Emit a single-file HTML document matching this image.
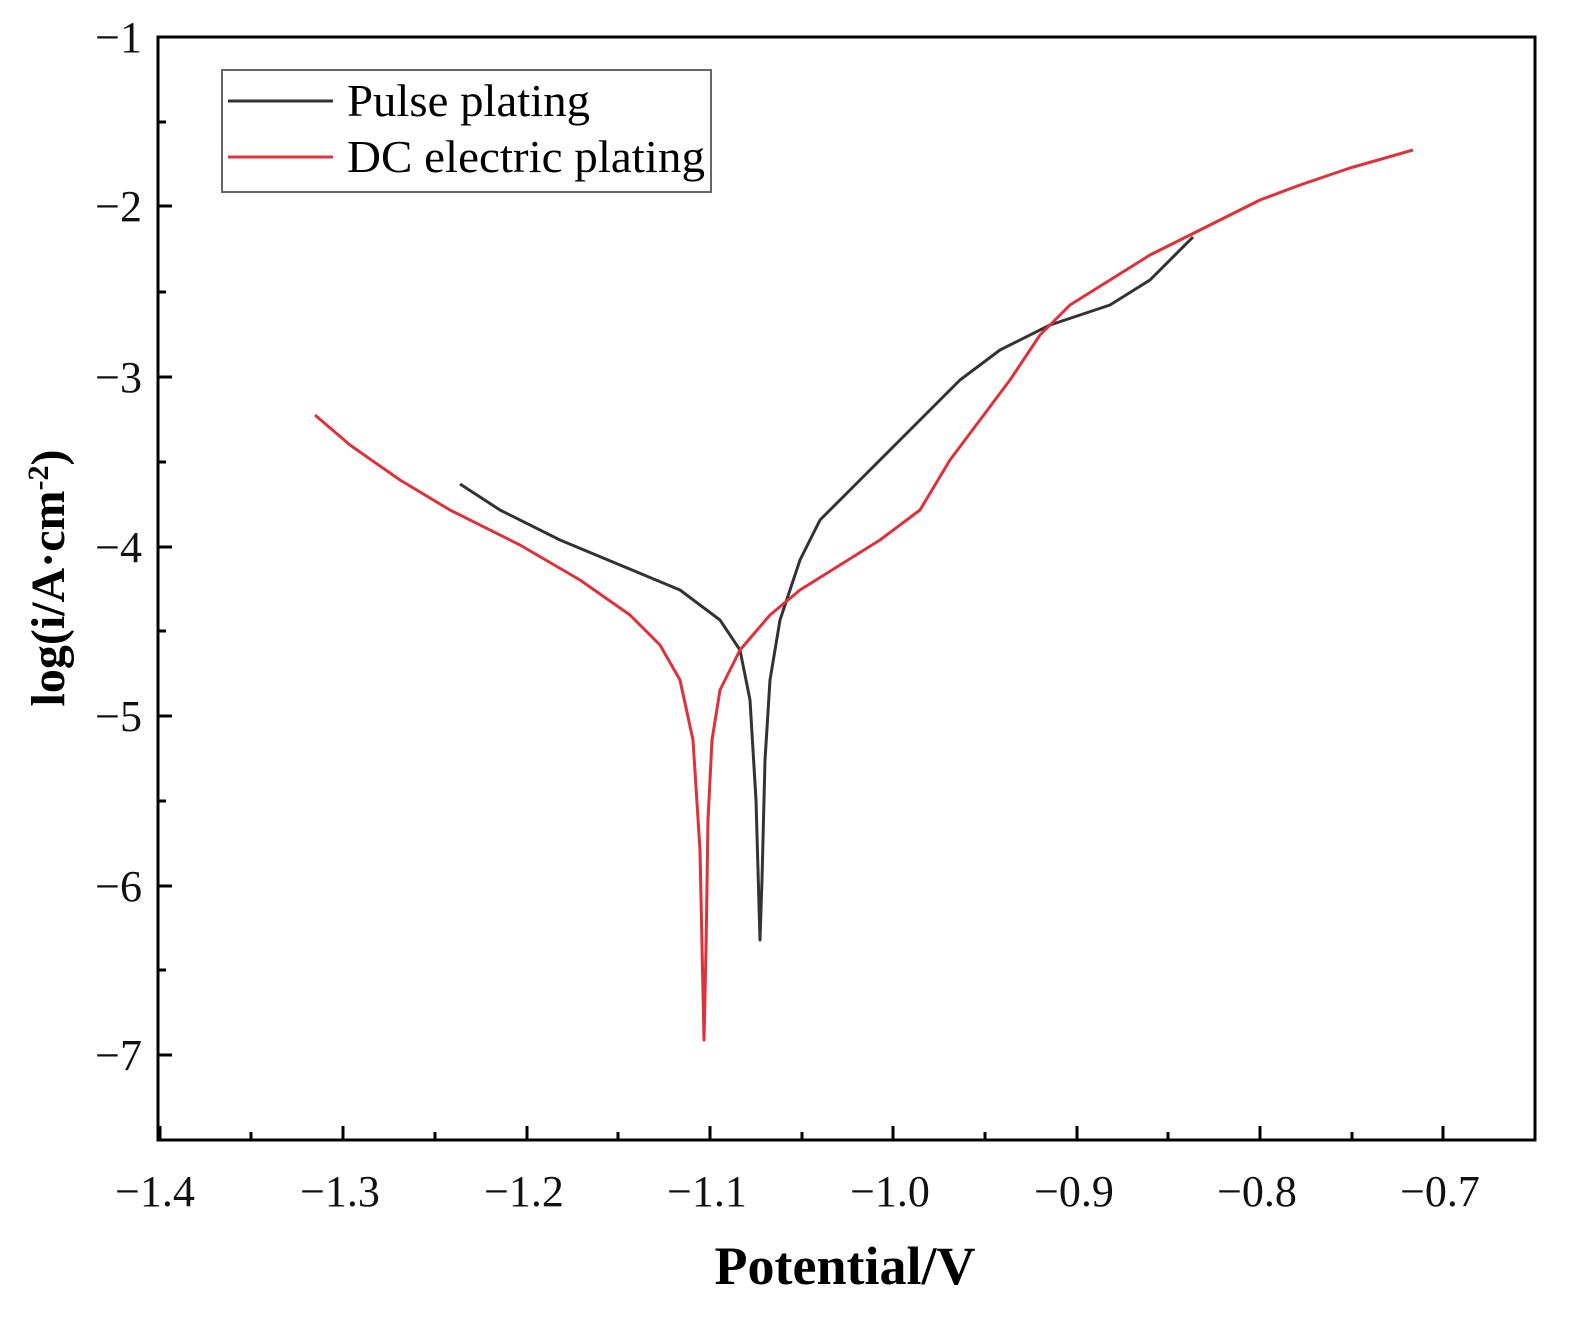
<!DOCTYPE html>
<html><head><style>body{margin:0;background:#fff}</style></head><body>
<svg width="1571" height="1315" xmlns="http://www.w3.org/2000/svg" font-family="Liberation Serif, serif">
<rect x="158" y="37" width="1377" height="1103" fill="none" stroke="#000" stroke-width="3"/>
<g stroke="#000" stroke-width="3">
<line x1="160" y1="1140" x2="160" y2="1126"/><line x1="343" y1="1140" x2="343" y2="1126"/><line x1="527" y1="1140" x2="527" y2="1126"/><line x1="710" y1="1140" x2="710" y2="1126"/><line x1="893" y1="1140" x2="893" y2="1126"/><line x1="1077" y1="1140" x2="1077" y2="1126"/><line x1="1260" y1="1140" x2="1260" y2="1126"/><line x1="1443" y1="1140" x2="1443" y2="1126"/>
<line x1="251" y1="1140" x2="251" y2="1132"/><line x1="435" y1="1140" x2="435" y2="1132"/><line x1="618" y1="1140" x2="618" y2="1132"/><line x1="802" y1="1140" x2="802" y2="1132"/><line x1="985" y1="1140" x2="985" y2="1132"/><line x1="1168" y1="1140" x2="1168" y2="1132"/><line x1="1352" y1="1140" x2="1352" y2="1132"/>
<line x1="158" y1="37" x2="172" y2="37"/><line x1="158" y1="206" x2="172" y2="206"/><line x1="158" y1="377" x2="172" y2="377"/><line x1="158" y1="547" x2="172" y2="547"/><line x1="158" y1="716" x2="172" y2="716"/><line x1="158" y1="886" x2="172" y2="886"/><line x1="158" y1="1055" x2="172" y2="1055"/>
<line x1="158" y1="122" x2="166" y2="122"/><line x1="158" y1="292" x2="166" y2="292"/><line x1="158" y1="462" x2="166" y2="462"/><line x1="158" y1="631" x2="166" y2="631"/><line x1="158" y1="801" x2="166" y2="801"/><line x1="158" y1="970" x2="166" y2="970"/>
</g>
<g font-size="44" text-anchor="middle" fill="#111">
<text x="155" y="1206">−1.4</text><text x="340" y="1206">−1.3</text><text x="524" y="1206">−1.2</text><text x="707" y="1206">−1.1</text><text x="890" y="1206">−1.0</text><text x="1074" y="1206">−0.9</text><text x="1257" y="1206">−0.8</text><text x="1440" y="1206">−0.7</text>
</g>
<g font-size="44" text-anchor="end" fill="#111">
<text x="142" y="52">−1</text><text x="142" y="221">−2</text><text x="142" y="392">−3</text><text x="142" y="562">−4</text><text x="142" y="731">−5</text><text x="142" y="901">−6</text><text x="142" y="1070">−7</text>
</g>
<text x="845" y="1284" font-size="54" font-weight="bold" text-anchor="middle">Potential/V</text>
<text transform="translate(64,578) rotate(-90)" font-size="48" font-weight="bold" text-anchor="middle">log(i/A·cm<tspan dy="-16" font-size="30">-2</tspan><tspan dy="16">)</tspan></text>
<rect x="222" y="70" width="489" height="122" fill="#fff" stroke="#666" stroke-width="2"/>
<line x1="228" y1="101" x2="333" y2="101" stroke="#333" stroke-width="3"/>
<line x1="228" y1="157" x2="333" y2="157" stroke="#e0303a" stroke-width="3"/>
<text x="347" y="116" font-size="46" textLength="243" lengthAdjust="spacingAndGlyphs">Pulse plating</text>
<text x="347" y="172" font-size="46" textLength="358" lengthAdjust="spacingAndGlyphs">DC electric plating</text>
<polyline fill="none" stroke="#333" stroke-width="3" stroke-linejoin="round" points="460,484 500,510 560,540 620,565 680,590 720,620 740,650 750,700 756,800 760,940 762,880 765,760 770,680 780,620 800,560 820,520 850,490 900,440 930,410 960,380 1000,350 1050,325 1080,315 1110,305 1150,280 1170,260 1193,237"/>
<polyline fill="none" stroke="#e0303a" stroke-width="3" stroke-linejoin="round" points="315,415 350,445 400,480 450,510 520,545 580,580 630,615 660,645 680,680 693,740 700,850 704,1040 706,950 708,820 712,740 720,690 740,650 770,615 800,590 840,565 880,540 920,510 950,460 980,420 1010,380 1040,335 1070,305 1110,280 1150,255 1200,230 1260,200 1300,185 1350,168 1413,150"/>
</svg>
</body></html>
